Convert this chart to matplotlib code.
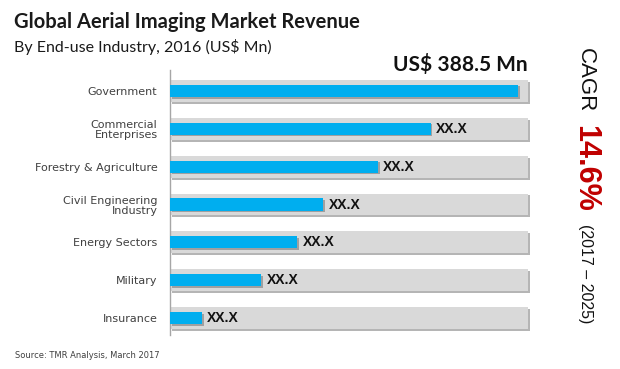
import matplotlib.pyplot as plt

# data
industries = ['Government', 'Commercial\nEnterprises', 'Forestry & Agriculture',
              'Civil Engineering\nIndustry', 'Energy Sectors', 'Military', 'Insurance']
revenue = [388.5, 290.8, 232.0, 171.0, 142.0, 102.0, 35.5]
bar_labels = ['', 'XX.X', 'XX.X', 'XX.X', 'XX.X', 'XX.X', 'XX.X']
track_max = 399.6

blue = '#00AEEF'
track = '#D9D9D9'

fig = plt.figure(figsize=(6.2, 3.69), dpi=100)
ax = fig.add_axes([170 / 620, 1 - 335 / 369, 360 / 620, 265 / 369])

y = list(range(len(industries)))
dx = track_max * 0.005

# background tracks with soft shadow
ax.barh([v + 0.05 for v in y], [track_max] * len(y), left=dx, height=0.58,
        color='#B5B5B5', zorder=1)
ax.barh(y, [track_max] * len(y), height=0.58, color=track, zorder=2)
# blue bars with soft shadow
ax.barh([v + 0.04 for v in y], revenue, left=dx, height=0.32,
        color='#A0A0A0', zorder=3)
ax.barh(y, revenue, height=0.32, color=blue, zorder=4)

for yi, v, lab in zip(y, revenue, bar_labels):
    if lab:
        ax.text(v + 6, yi, lab, va='center', ha='left', fontsize=10,
                fontweight='bold', family='Liberation Sans', color='#111111', zorder=5)

ax.set_xlim(0, track_max + 2)
ax.set_ylim(6.447, -0.553)
ax.set_yticks(y)
ax.set_yticklabels(industries, fontsize=8, color='#404040', linespacing=1.0)
ax.tick_params(axis='y', length=0, pad=9)
ax.set_xticks([])
for s in ['top', 'right', 'bottom']:
    ax.spines[s].set_visible(False)
ax.spines['left'].set_color('#A6A6A6')
ax.spines['left'].set_linewidth(1.0)

fig.text(14 / 620, 1 - 22 / 369, 'Global Aerial Imaging Market Revenue',
         fontsize=14.5, fontweight='bold', family='Lato', color='#1a1a1a', va='center')
fig.text(14 / 620, 1 - 47 / 369, 'By End-use Industry, 2016 (US$ Mn)',
         fontsize=11.5, family='Lato', color='#1a1a1a', va='center')
fig.text(528 / 620, 1 - 64 / 369, 'US$ 388.5 Mn', fontsize=15, fontweight='bold',
         family='Lato', color='#111111', va='center', ha='right')

# CAGR vertical text
fig.text(585 / 620, 1 - 80 / 369, 'CAGR', rotation=-90, fontsize=16, family='Liberation Sans',
         color='#111111', ha='center', va='center')
fig.text(585 / 620, 1 - 168 / 369, '14.6%', rotation=-90, fontsize=22, fontweight='bold',
         family='Liberation Sans', color='#C00000', ha='center', va='center')
fig.text(585 / 620, 1 - 274 / 369, '(2017 – 2025)', rotation=-90, fontsize=11.5,
         family='Liberation Sans', color='#111111', ha='center', va='center')

fig.text(15 / 620, 1 - 355 / 369, 'Source: TMR Analysis, March 2017', fontsize=6,
         color='#404040', va='center')

fig.savefig('out.png', dpi=100)
